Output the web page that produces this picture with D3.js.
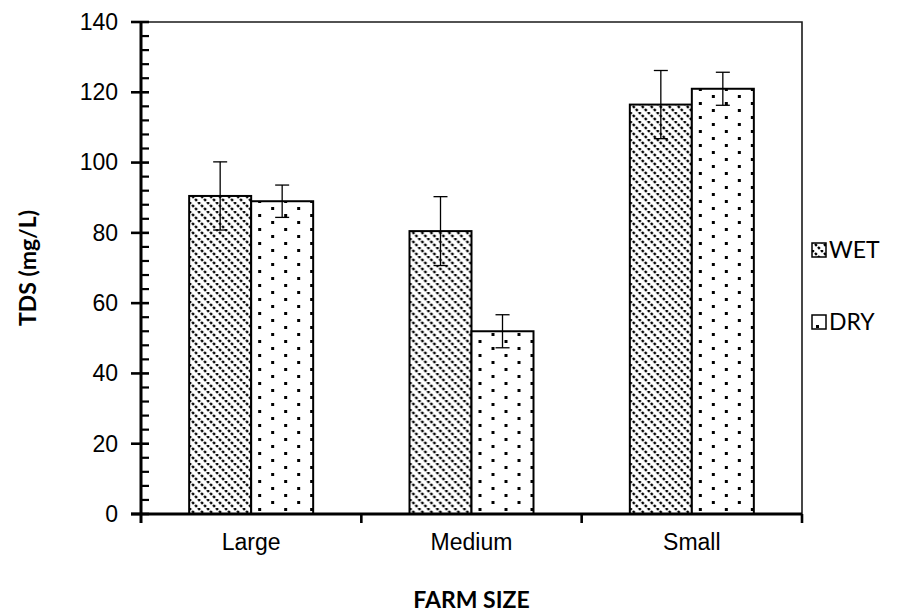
<!DOCTYPE html>
<html>
<head>
<meta charset="utf-8">
<script src="https://cdn.jsdelivr.net/npm/d3@7"></script>
<style>
body{margin:0;background:#fff;}
svg{font-family:Lato,"Open Sans",sans-serif;}
</style>
</head>
<body>
<div id="chart"></div>
<script>
// donnees
const categories = ["Large","Medium","Small"];
const series = ["WET","DRY"];
const wetValues = [90.5, 80.5, 116.5];
const dryValues = [89, 52, 121];
const wetErrors = [9.7, 9.8, 9.7];
const dryErrors = [4.6, 4.7, 4.7];
const yTicks = [0,20,40,60,80,100,120,140];

const W = 909, H = 615;
const margin = {left:141, top:22, right:107, bottom:101};
const plotW = W - margin.left - margin.right;
const plotH = H - margin.top - margin.bottom;
const fs = 23;

const svg = d3.select("#chart").append("svg").attr("width",W).attr("height",H);
const defs = svg.append("defs");

// motif hachure (WET)
const t = 9;
const pWet = defs.append("pattern").attr("id","wet").attr("patternUnits","userSpaceOnUse")
  .attr("width",t).attr("height",t);
pWet.append("rect").attr("width",t).attr("height",t).attr("fill","#fff");
[-t,0,t].forEach(o=>{
  pWet.append("path").attr("d","M"+o+",0 L"+(o+t)+","+t)
    .attr("stroke","#000").attr("stroke-width",2.4).attr("stroke-dasharray","2.6,1.64");
});

// motif points (DRY)
const pDry = defs.append("pattern").attr("id","dry").attr("patternUnits","userSpaceOnUse")
  .attr("width",26).attr("height",14);
pDry.append("rect").attr("width",26).attr("height",14).attr("fill","#fff");
pDry.append("rect").attr("x",4).attr("y",3).attr("width",3).attr("height",3).attr("fill","#000");
pDry.append("rect").attr("x",17).attr("y",10).attr("width",3).attr("height",3).attr("fill","#000");

const fills = {WET:"url(#wet)", DRY:"url(#dry)"};

const g = svg.append("g").attr("transform","translate("+margin.left+","+margin.top+")");

const x0 = d3.scaleBand().domain(categories).range([0,plotW]);
// largeur de barre ~62px sur une categorie de 220px
const barW = 62;
const y = d3.scaleLinear().domain([0,140]).range([plotH,0]);

// cadre haut et droite
g.append("path").attr("d","M0,0 H"+plotW+" V"+plotH)
  .attr("fill","none").attr("stroke","#1a1a1a").attr("stroke-width",1.6);

// barres
const rows = categories.map((c,i)=>({cat:c, vals:[
  {s:"WET", v:wetValues[i], e:wetErrors[i]},
  {s:"DRY", v:dryValues[i], e:dryErrors[i]}]}));

const grp = g.selectAll(".cat").data(rows).join("g")
  .attr("transform",d=>"translate("+(x0(d.cat)+x0.bandwidth()/2-barW)+",0)");

grp.selectAll("rect").data(d=>d.vals).join("rect")
  .attr("x",(d,i)=>i*barW).attr("y",d=>y(d.v))
  .attr("width",barW).attr("height",d=>plotH-y(d.v))
  .attr("fill",d=>fills[d.s]).attr("stroke","#000").attr("stroke-width",2);

// barres d'erreur
const eb = grp.selectAll(".err").data(d=>d.vals).join("g").attr("class","err");
eb.append("line").attr("x1",(d,i)=>i*barW+barW/2).attr("x2",(d,i)=>i*barW+barW/2)
  .attr("y1",d=>y(d.v+d.e)).attr("y2",d=>y(d.v-d.e)).attr("stroke","#000").attr("stroke-width",1.3);
[1,-1].forEach(sg=>{
  eb.append("line").attr("x1",(d,i)=>i*barW+barW/2-7).attr("x2",(d,i)=>i*barW+barW/2+7)
    .attr("y1",d=>y(d.v+sg*d.e)).attr("y2",d=>y(d.v+sg*d.e)).attr("stroke","#000").attr("stroke-width",1.3);
});

// axe Y
const yAxis = g.append("g").call(d3.axisLeft(y).tickValues(yTicks).tickSize(0).tickPadding(0));
yAxis.select(".domain").remove();
yAxis.selectAll("text").attr("x",-23).attr("font-size",fs).attr("fill","#000");
// graduations mineures (a l'interieur)
const minor = d3.range(0,141,4).filter(v=>v%20!==0);
g.selectAll(".minor").data(minor).join("line")
  .attr("x1",0).attr("x2",8).attr("y1",d=>y(d)).attr("y2",d=>y(d)).attr("stroke","#000").attr("stroke-width",2.2);
g.selectAll(".major").data(yTicks).join("line")
  .attr("x1",-10).attr("x2",8).attr("y1",d=>y(d)).attr("y2",d=>y(d)).attr("stroke","#000").attr("stroke-width",2.6);
g.append("line").attr("x1",0).attr("x2",0).attr("y1",0).attr("y2",plotH+9).attr("stroke","#000").attr("stroke-width",3);

// axe X
const xAxis = g.append("g").attr("transform","translate(0,"+plotH+")")
  .call(d3.axisBottom(x0).tickSize(0).tickPadding(20));
xAxis.select(".domain").remove();
xAxis.selectAll("text").attr("font-size",fs).attr("fill","#000");
g.selectAll(".xt").data(categories).join("line")
  .attr("x1",d=>x0(d)+x0.bandwidth()).attr("x2",d=>x0(d)+x0.bandwidth())
  .attr("y1",plotH).attr("y2",plotH+9).attr("stroke","#000").attr("stroke-width",2.6);
g.append("line").attr("x1",-10).attr("x2",plotW).attr("y1",plotH).attr("y2",plotH).attr("stroke","#000").attr("stroke-width",3);

// titres des axes
svg.append("text").attr("transform","translate(36,"+(margin.top+plotH/2)+") rotate(-90)")
  .attr("text-anchor","middle").attr("font-size",fs).attr("font-weight","bold").text("TDS (mg/L)");
svg.append("text").attr("x",margin.left+plotW/2).attr("y",608)
  .attr("text-anchor","middle").attr("font-size",fs).attr("font-weight","bold").text("FARM SIZE");

// legende
const leg = svg.selectAll(".leg").data(series).join("g")
  .attr("transform",(d,i)=>"translate(812,"+(250+i*72)+")");
leg.append("rect").attr("x",0).attr("y",-7).attr("width",14).attr("height",14)
  .attr("fill",d=>fills[d]).attr("stroke","#000").attr("stroke-width",1.5);
leg.append("text").attr("x",17).attr("y",8).attr("font-size",fs).text(d=>d);
</script>
</body>
</html>
